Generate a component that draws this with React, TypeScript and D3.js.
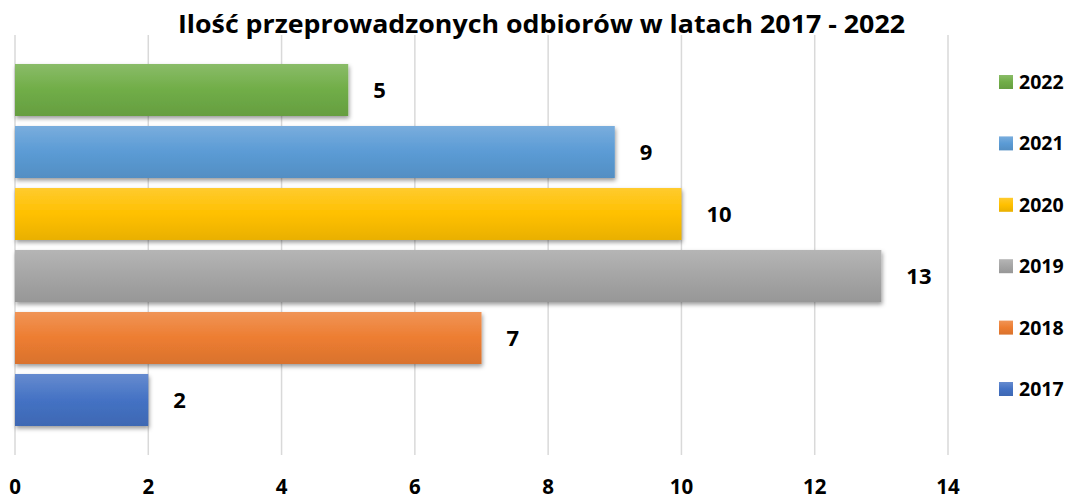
import React from "react";
import * as d3 from "d3";

const years = ["2022", "2021", "2020", "2019", "2018", "2017"];
const values = [5, 9, 10, 13, 7, 2];
const colors = ["#70AD47", "#5B9BD5", "#FFC000", "#A5A5A5", "#ED7D31", "#4472C4"];
const xTicks = [0, 2, 4, 6, 8, 10, 12, 14];
const title = "Ilość przeprowadzonych odbiorów w latach 2017 - 2022";

const W = 1069;
const H = 500;
const FONT = "'Open Sans', Lato, sans-serif";

export default function App() {
  const x = d3.scaleLinear().domain([0, 14]).range([15, 948]);
  const p = 10 / 62;
  const y = d3.scaleBand<string>().domain(years).range([59, 431]).paddingInner(p).paddingOuter(p / 2);
  const legendY = d3.scalePoint<string>().domain(years).range([82, 389]);

  return (
    <svg width={W} height={H} style={{ position: "absolute", left: 0, top: 0, background: "#fff" }}>
      <defs>
        {colors.map((c, i) => {
          const base = d3.color(c)!;
          const light = d3.interpolateRgb(c, "#ffffff")(0.18);
          const dark = base.darker(0.25).formatHex();
          return (
            <linearGradient key={i} id={`g${i}`} x1="0" y1="0" x2="0" y2="1">
              <stop offset="0" stopColor={light} />
              <stop offset="0.5" stopColor={c} />
              <stop offset="1" stopColor={dark} />
            </linearGradient>
          );
        })}
        <filter id="sh" x="-5%" y="-20%" width="110%" height="150%">
          <feDropShadow dx="1" dy="2.5" stdDeviation="2" floodColor="#000" floodOpacity="0.4" />
        </filter>
      </defs>
      <text
        x={178}
        y={33}
        textLength={727}
        lengthAdjust="spacingAndGlyphs"
        fontFamily={FONT}
        fontWeight="bold"
        fontSize={25}
        fill="#000"
      >
        {title}
      </text>
      {xTicks.map((t) => (
        <line key={t} x1={x(t)} x2={x(t)} y1={35} y2={455} stroke="#d9d9d9" strokeWidth={1.5} />
      ))}
      {years.map((yr, i) => (
        <g key={yr}>
          <rect
            x={x(0)}
            y={y(yr)!}
            width={x(values[i]) - x(0)}
            height={y.bandwidth()}
            fill={`url(#g${i})`}
            filter="url(#sh)"
          />
          <text
            x={x(values[i]) + 25}
            y={y(yr)! + y.bandwidth() / 2 + 8}
            fontFamily={FONT}
            fontWeight="bold"
            fontSize={22}
            fill="#000"
          >
            {values[i]}
          </text>
        </g>
      ))}
      {xTicks.map((t) => (
        <text key={t} x={x(t)} y={494} textAnchor="middle" fontFamily={FONT} fontWeight="bold" fontSize={20.5} fill="#000">
          {t}
        </text>
      ))}
      {years.map((yr, i) => (
        <g key={yr}>
          <rect x={999} y={legendY(yr)! - 7} width={14} height={14} fill={`url(#g${i})`} />
          <text x={1019} y={legendY(yr)! + 7} fontFamily={FONT} fontWeight="bold" fontSize={19.5} fill="#000">
            {yr}
          </text>
        </g>
      ))}
    </svg>
  );
}
